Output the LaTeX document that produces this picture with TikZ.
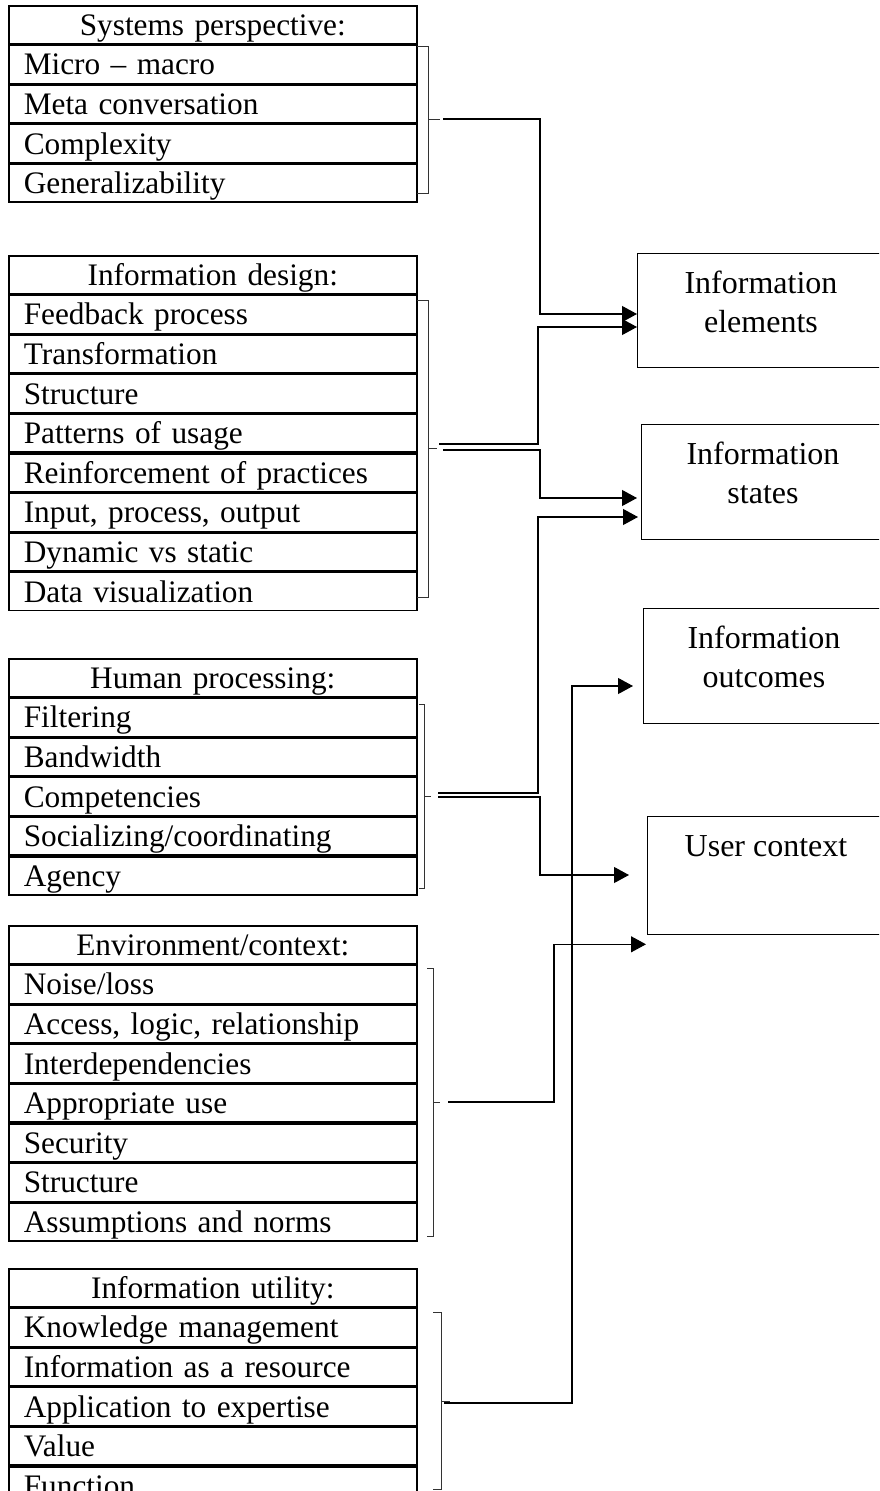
\documentclass[tikz,border=0pt]{standalone}
\usepackage{fontspec}
\setmainfont{Liberation Serif}
\usetikzlibrary{arrows.meta,calc}

% square bracket grouping the rows of a table: x, top, bottom, middle, left tick end, middle tick end
\newcommand\grpbrace[6]{%
  \draw[brace] (#5,#2) -- (#1,#2) -- (#1,#3) -- (#5,#3);
  \draw[brace] (#1,#4) -- (#6,#4);
}

\begin{document}
\begin{tikzpicture}[x=1pt,y=-1pt,
  cell/.style={draw, line width=1.6pt, minimum height=38pt, inner xsep=15pt,
    inner ysep=0pt, text width=378pt, align=left, anchor=north west,
    text height=25pt, text depth=4pt, font=\fontsize{31.3}{38}\selectfont},
  head/.style={cell, align=center},
  rbox/.style={draw, line width=1.3pt, anchor=north west, inner sep=0pt},
  rtext/.style={align=center, inner sep=0pt, anchor=north,
    font=\fontsize{32}{39}\selectfont},
  brace/.style={line width=0.9pt, black!80},
  conn/.style={line width=1.1pt},
  arr/.style={conn, -{Triangle[length=15pt,width=16pt]}},
]
\useasboundingbox (0,0) rectangle (879,1491);
\clip (0,0) rectangle (879,1491);

% ---- Systems perspective ----
\node[head] (sp) at (8,5) {Systems perspective:};
\node[cell] (sp1) at (sp.south west) {Micro – macro};
\node[cell] (sp2) at (sp1.south west) {Meta conversation};
\node[cell] (sp3) at (sp2.south west) {Complexity};
\node[cell] (sp4) at (sp3.south west) {Generalizability};

% ---- Information design ----
\node[head] (id) at (8,255) {Information design:};
\node[cell] (id1) at (id.south west) {Feedback process};
\node[cell] (id2) at (id1.south west) {Transformation};
\node[cell] (id3) at (id2.south west) {Structure};
\node[cell] (id4) at (id3.south west) {Patterns of usage};
\node[cell] (id5) at (id4.south west) {Reinforcement of practices};
\node[cell] (id6) at (id5.south west) {Input, process, output};
\node[cell] (id7) at (id6.south west) {Dynamic vs static};
\node[cell] (id8) at (id7.south west) {Data visualization};

% ---- Human processing ----
\node[head] (hp) at (8,658) {Human processing:};
\node[cell] (hp1) at (hp.south west) {Filtering};
\node[cell] (hp2) at (hp1.south west) {Bandwidth};
\node[cell] (hp3) at (hp2.south west) {Competencies};
\node[cell] (hp4) at (hp3.south west) {Socializing/coordinating};
\node[cell] (hp5) at (hp4.south west) {Agency};

% ---- Environment/context ----
\node[head] (ec) at (8,925) {Environment/context:};
\node[cell] (ec1) at (ec.south west) {Noise/loss};
\node[cell] (ec2) at (ec1.south west) {Access, logic, relationship};
\node[cell] (ec3) at (ec2.south west) {Interdependencies};
\node[cell] (ec4) at (ec3.south west) {Appropriate use};
\node[cell] (ec5) at (ec4.south west) {Security};
\node[cell] (ec6) at (ec5.south west) {Structure};
\node[cell] (ec7) at (ec6.south west) {Assumptions and norms};

% ---- Information utility ----
\node[head] (iu) at (8,1268) {Information utility:};
\node[cell] (iu1) at (iu.south west) {Knowledge management};
\node[cell] (iu2) at (iu1.south west) {Information as a resource};
\node[cell] (iu3) at (iu2.south west) {Application to expertise};
\node[cell] (iu4) at (iu3.south west) {Value};
\node[cell] (iu5) at (iu4.south west) {Function};

% ---- brackets grouping the rows ----
\grpbrace{428}{46}{193}{119}{417}{440}
\grpbrace{428}{300}{597}{448}{417}{437}
\grpbrace{424}{704}{888}{796}{419}{431}
\grpbrace{433}{968}{1236}{1102}{427}{440}
\grpbrace{441}{1312}{1489}{1401}{433}{450}

% connector start points beside the brackets
\coordinate (spB)  at (443,119);
\coordinate (idB1) at (439,444);
\coordinate (idB2) at (443,450);
\coordinate (hpB1) at (438,793);
\coordinate (hpB2) at (438,797);
\coordinate (ecB)  at (448,1102);
\coordinate (iuB)  at (444,1403);

% ---- outcome boxes ----
\node[rbox, minimum width=248pt, minimum height=114pt] (elem) at (637,253) {};
\node[rtext] (elemT) at (761,271) {Information\\elements};
\node[rbox, minimum width=244pt, minimum height=115pt] (stat) at (641,424) {};
\node[rtext] (statT) at (763,442) {Information\\states};
\node[rbox, minimum width=242pt, minimum height=115pt] (outc) at (643,608) {};
\node[rtext] (outcT) at (764,626) {Information\\outcomes};
\node[rbox, minimum width=238pt, minimum height=118pt] (user) at (647,816) {};
\node[rtext] (userT) at (766,835) {User context};

% ---- connectors ----
\draw[arr] (spB) -- (540,119) |- ($(elem.north west)+(0,61)$);
\draw[arr] (idB1) -- (538,444) |- ($(elem.north west)+(0,74)$);
\draw[arr] (idB2) -- (540,450) |- ($(stat.north west)+(-4,74)$);
\draw[arr] (hpB1) -- (538,793) |- ($(stat.north west)+(-3,93)$);
\draw[arr] (hpB2) -- (540,797) |- ($(user.north west)+(-18,59)$);
\draw[arr] (ecB) -- (554,1102) |- ($(user.south west)+(-1,9)$);
\draw[arr] (iuB) -- (572,1403) |- ($(outc.north west)+(-10,78)$);
\end{tikzpicture}
\end{document}
